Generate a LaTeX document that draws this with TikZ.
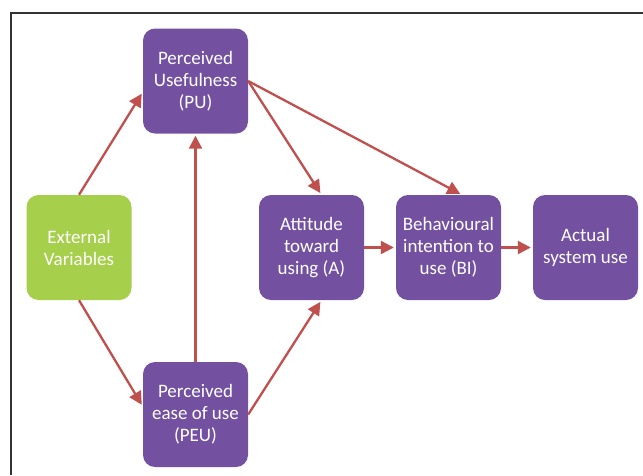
\documentclass[tikz,border=0pt]{standalone}
\usepackage{fontspec}
\setmainfont{Carlito}
\usepackage{xcolor}
\usetikzlibrary{arrows.meta}

\definecolor{tamPurple}{HTML}{7451A0}
\definecolor{tamGreen}{HTML}{A6CF4B}
\definecolor{tamRed}{HTML}{C0504D}

\begin{document}
\begin{tikzpicture}[x=1pt, y=-1pt,
    box/.style={rectangle, rounded corners=12pt, minimum width=105pt,
                minimum height=105pt, fill=tamPurple, text=white,
                align=center, font=\fontsize{19}{22}\selectfont},
    greenbox/.style={box, fill=tamGreen},
    link/.style={->, tamRed, line width=2.3pt, shorten >=2pt,
                 >={Triangle[length=13pt, width=13pt]}}]

\useasboundingbox (0,0) rectangle (643,475);
\draw[black!80, line width=1.3pt] (11,475) -- (11,13) -- (643,13);

\draw
    (195.5,81)    node[box](pu)       {Perceived\\Usefulness\\(PU)}
    (79,247.5)    node[greenbox](ext) {External\\Variables}
    (311.5,247.5) node[box](att)      {Attitude\\toward\\using (A)}
    (448.5,247.5) node[box](bi)       {Behavioural\\intention to\\use (BI)}
    (585.5,247.5) node[box](use)      {Actual\\system use}
    (195.5,414.5) node[box](peu)      {Perceived\\ease of use\\(PEU)}
    ;

\draw[link] (ext.north) -- ([yshift=-11]pu.west);
\draw[link] (ext.south) -- ([yshift=8]peu.west);
\draw[link] (peu.north) -- (pu.south);
\draw[link] (peu.east) -- ([xshift=10]att.south);
\draw[link] (pu.east) -- ([xshift=10]att.north);
\draw[link] (pu.east) -- ([xshift=13.5]bi.north);
\draw[link] (att.east) -- (bi.west);
\draw[link] (bi.east) -- (use.west);

\end{tikzpicture}
\end{document}
